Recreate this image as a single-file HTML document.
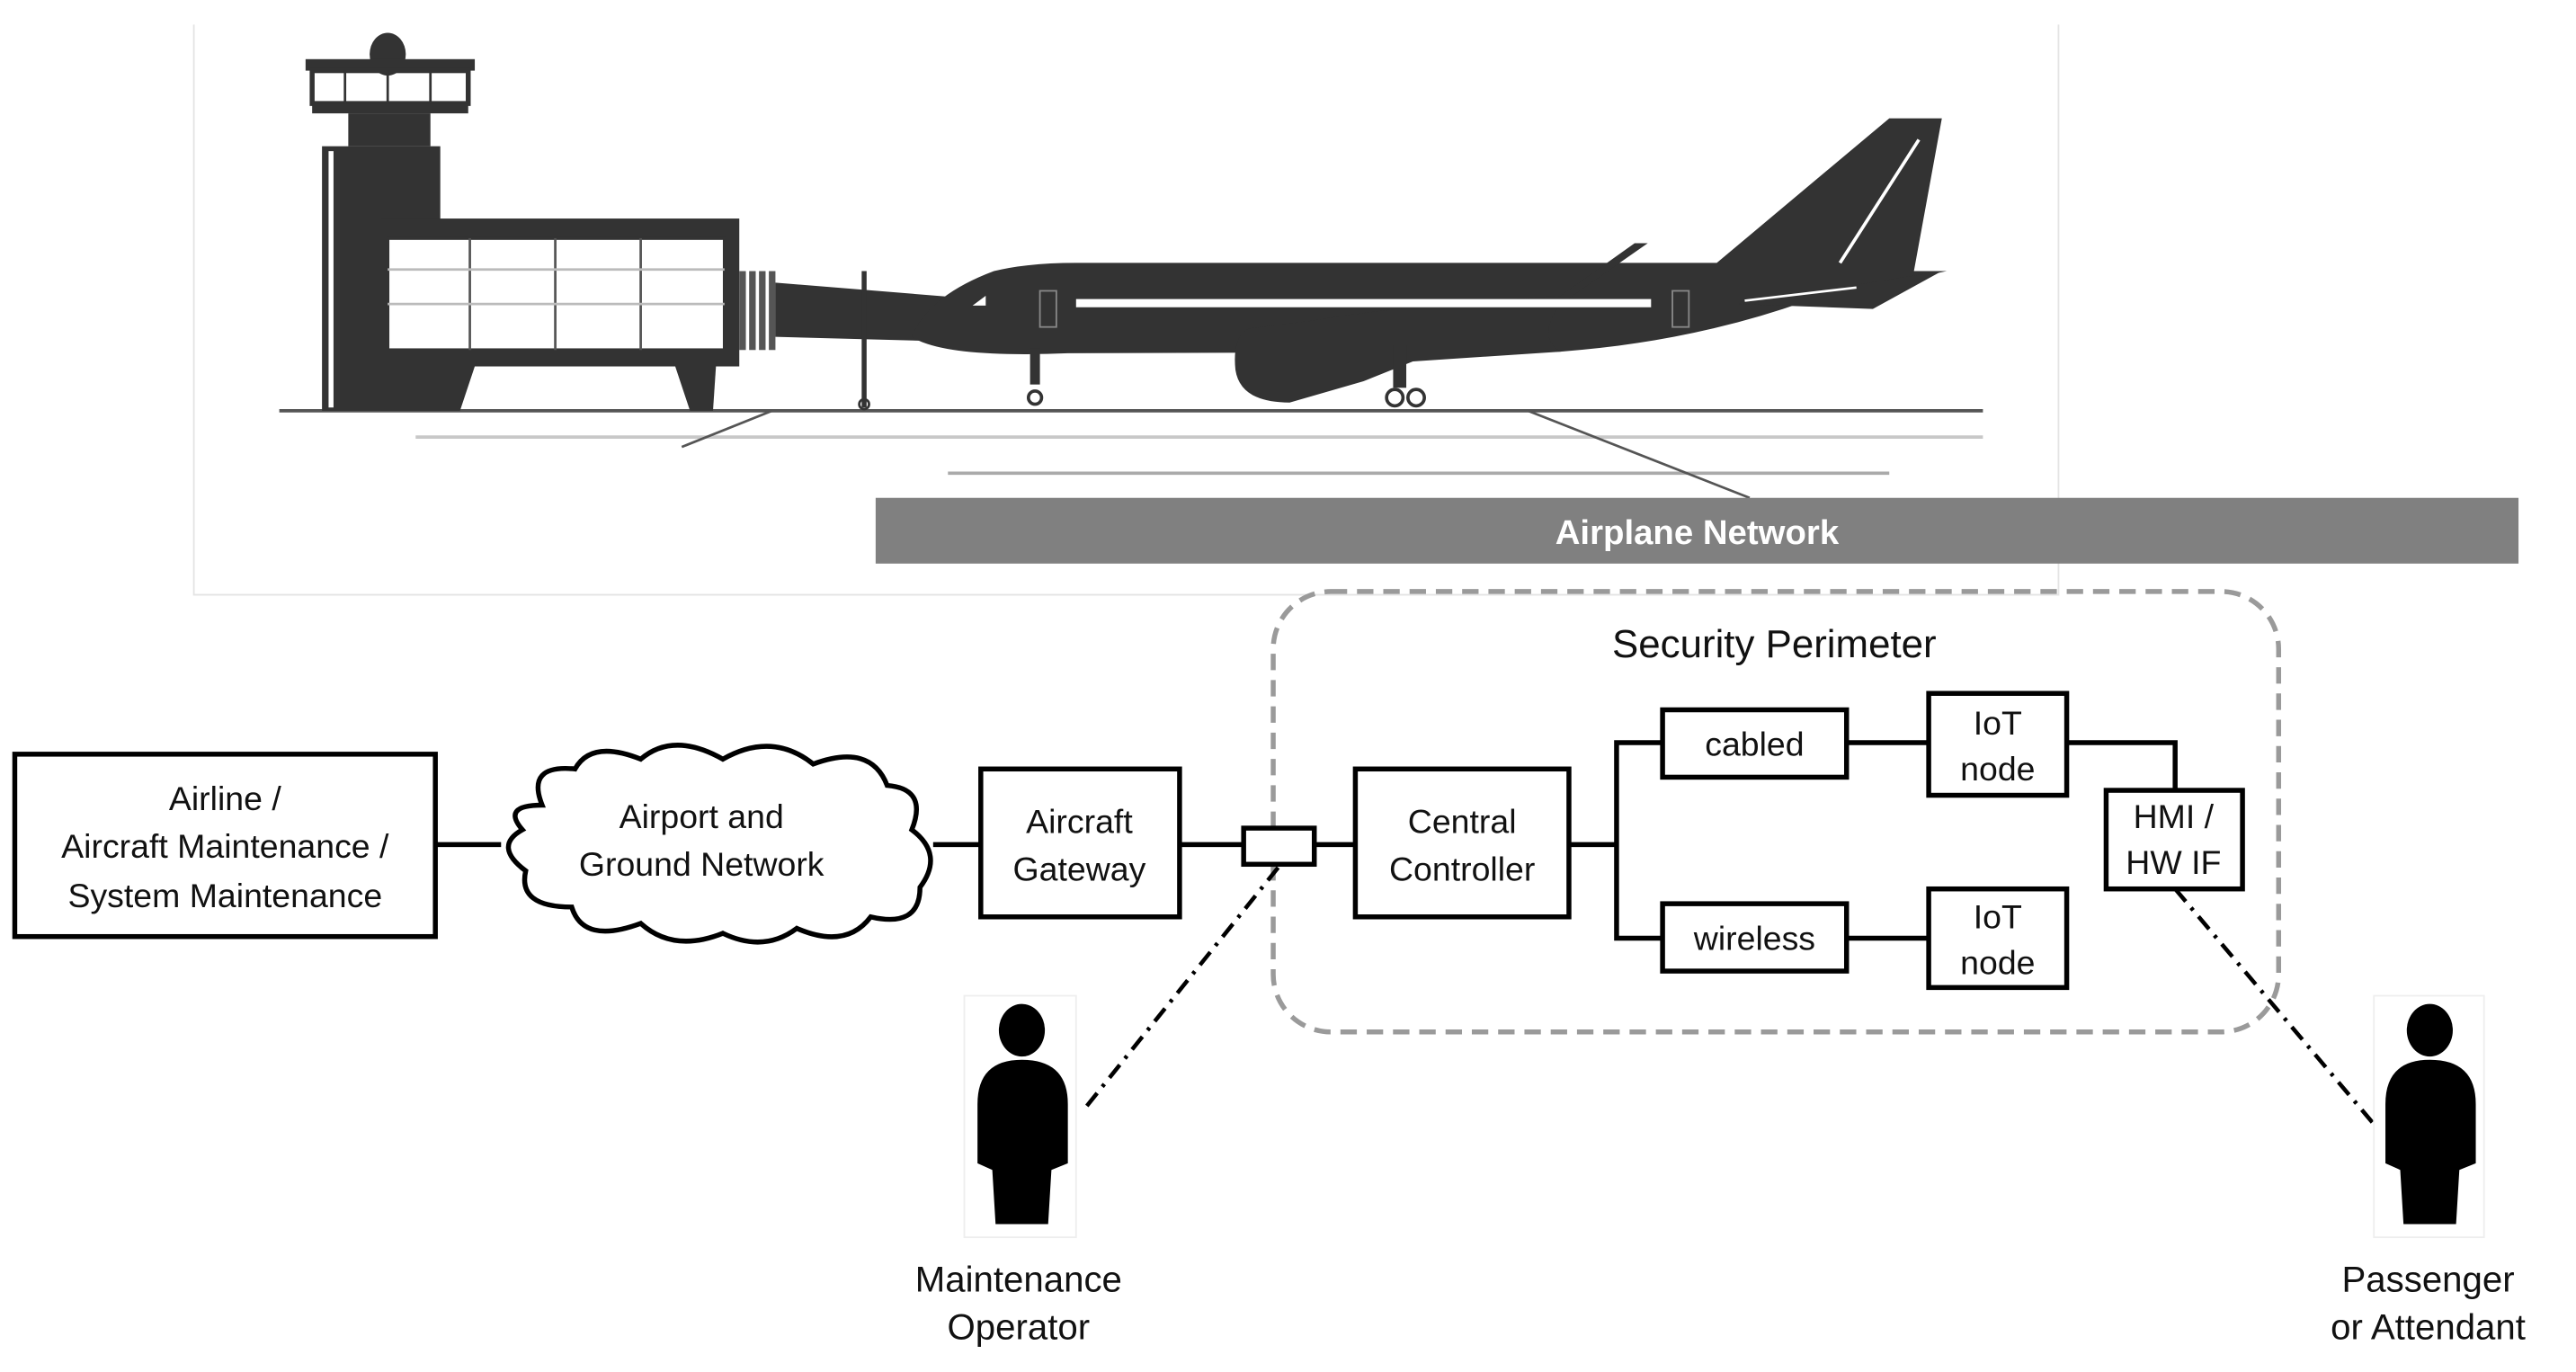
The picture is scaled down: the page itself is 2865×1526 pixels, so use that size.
<!DOCTYPE html>
<html><head><meta charset="utf-8"><style>
html,body{margin:0;padding:0;background:#fff;}
svg{display:block;}
text{font-family:"Liberation Sans",sans-serif;}
</style></head><body>
<svg width="2865" height="1526" viewBox="0 0 1568 835" preserveAspectRatio="none" xmlns="http://www.w3.org/2000/svg">
<rect x="0" y="0" width="1568" height="835" fill="#fff"/>
<path d="M118 15 V362 H1253 V15" fill="none" stroke="#e4e4e4" stroke-width="1"/>
<line x1="170" y1="250" x2="1207" y2="250" stroke="#555" stroke-width="2"/>
<line x1="253" y1="266" x2="1207" y2="266" stroke="#c8c8c8" stroke-width="2"/>
<line x1="577" y1="288" x2="1150" y2="288" stroke="#aaa" stroke-width="2"/>
<line x1="415" y1="272" x2="470" y2="250" stroke="#555" stroke-width="1.5"/>
<line x1="930" y1="250" x2="1065" y2="303" stroke="#555" stroke-width="1.5"/>
<g fill="#333">
<ellipse cx="236" cy="33" rx="11" ry="13"/>
<rect x="186" y="36" width="103" height="7"/>
<rect x="190" y="43" width="95" height="20" fill="none" stroke="#333" stroke-width="3"/>
<line x1="210" y1="43" x2="210" y2="63" stroke="#333" stroke-width="1.5"/>
<line x1="236" y1="43" x2="236" y2="63" stroke="#333" stroke-width="1.5"/>
<line x1="262" y1="43" x2="262" y2="63" stroke="#333" stroke-width="1.5"/>
<rect x="190" y="63" width="95" height="6"/>
<rect x="212" y="69" width="50" height="20"/>
<rect x="196" y="89" width="72" height="161"/>
<rect x="232" y="133" width="218" height="90"/>
<path d="M232 220 L290 220 L280 250 L232 250 Z"/>
<path d="M410 220 L436 220 L434 250 L420 250 Z"/>
</g>
<rect x="200" y="92" width="3" height="156" fill="#fff"/>
<rect x="236" y="145" width="205" height="68" fill="#fff" stroke="#333" stroke-width="2"/>
<g stroke="#555" stroke-width="1.5"><line x1="286" y1="145" x2="286" y2="213"/><line x1="338" y1="145" x2="338" y2="213"/><line x1="390" y1="145" x2="390" y2="213"/><line x1="236" y1="164" x2="441" y2="164" stroke="#bbb"/><line x1="236" y1="185" x2="441" y2="185" stroke="#bbb"/></g>
<g fill="#555"><rect x="450" y="165" width="4" height="48"/><rect x="456" y="165" width="4" height="48"/><rect x="462" y="165" width="4" height="48"/><rect x="468" y="165" width="4" height="48"/></g>
<path d="M472 172 L595 182 L585 208 L472 205 Z" fill="#333"/>
<line x1="526" y1="165" x2="526" y2="248" stroke="#333" stroke-width="3"/>
<circle cx="526" cy="246" r="3" fill="none" stroke="#333" stroke-width="1.5"/>
<g fill="#333">
<path d="M555 205 Q565 180 605 165 Q625 160 655 160 L1045 160 L1150 72 L1182 72 L1165 165 L1185 165 L1100 183 Q1030 208 950 214 L650 215 Q575 218 555 205 Z"/>
<path d="M760 200 Q750 205 752 225 Q755 245 785 245 L830 232 L860 220 L950 214 Q935 205 950 185 L1003 148 L995 148 L950 180 Q860 185 800 195 Z"/>
<rect x="627" y="212" width="6" height="22"/>
<rect x="848" y="210" width="8" height="26"/>
<path d="M1058 185 L1182 165 L1140 188 Z"/>
</g>
<path d="M1168 85 L1120 160" stroke="#fff" stroke-width="2"/>
<path d="M1062 183 L1130 175" stroke="#fff" stroke-width="1.5"/>
<path d="M600 180 L592 186 L600 186 Z" fill="#fff"/>
<rect x="655" y="182" width="350" height="5" fill="#fff"/>
<circle cx="630" cy="242" r="4" fill="#fff" stroke="#333" stroke-width="2"/>
<circle cx="849" cy="242" r="5" fill="#fff" stroke="#333" stroke-width="2"/>
<circle cx="862" cy="242" r="5" fill="#fff" stroke="#333" stroke-width="2"/>
<rect x="633" y="177" width="10" height="22" fill="none" stroke="#888" stroke-width="1"/>
<rect x="1018" y="177" width="10" height="22" fill="none" stroke="#888" stroke-width="1"/>
<rect x="533" y="303" width="1000" height="40" fill="#808080"/>
<text x="1033" y="331" font-size="21" font-weight="bold" fill="#fff" text-anchor="middle">Airplane Network</text>
<rect x="775" y="360" width="612" height="268" rx="35" ry="35" fill="none" stroke="#9a9a9a" stroke-width="3" stroke-dasharray="10,6"/>
<text x="1080" y="400" font-size="24" text-anchor="middle" fill="#111">Security Perimeter</text>
<g stroke="#000" stroke-width="3" fill="none">
<line x1="265" y1="514" x2="305" y2="514"/>
<line x1="568" y1="514" x2="597" y2="514"/>
<line x1="718" y1="514" x2="757" y2="514"/>
<line x1="800" y1="514" x2="825" y2="514"/>
<line x1="955" y1="514" x2="984" y2="514"/>
<polyline points="1012,452 984,452 984,571 1012,571"/>
<line x1="1124" y1="452" x2="1174" y2="452"/>
<line x1="1124" y1="571" x2="1174" y2="571"/>
<polyline points="1258,452 1324,452 1324,481"/>
</g>
<g stroke="#000" stroke-width="2.5" stroke-dasharray="10,5,2,5" fill="none">
<line x1="778" y1="528" x2="660" y2="675"/>
<line x1="1324" y1="541" x2="1444" y2="683"/>
</g>
<g stroke="#000" stroke-width="3" fill="#fff">
<rect x="9" y="459" width="256" height="111"/>
<rect x="597" y="468" width="121" height="90"/>
<rect x="757" y="504" width="43" height="22"/>
<rect x="825" y="468" width="130" height="90"/>
<rect x="1012" y="432" width="112" height="41"/>
<rect x="1012" y="550" width="112" height="41"/>
<rect x="1174" y="422" width="84" height="62"/>
<rect x="1174" y="541" width="84" height="60"/>
<rect x="1282" y="481" width="83" height="60"/>
</g>
<path d="M330 490 Q320 465 350 468 Q360 450 390 462 Q410 445 440 462 Q470 445 495 465 Q530 452 540 478 Q565 480 555 505 Q575 520 560 540 Q560 565 530 558 Q515 578 485 565 Q465 580 440 568 Q410 580 390 562 Q355 575 348 552 Q315 552 320 530 Q300 515 318 505 Q305 490 330 490 Z" fill="#fff" stroke="#000" stroke-width="3"/>
<g font-size="20.5" fill="#111" text-anchor="middle">
<text x="137" y="493">Airline /</text>
<text x="137" y="522">Aircraft Maintenance /</text>
<text x="137" y="552">System Maintenance</text>
<text x="427" y="504">Airport and</text>
<text x="427" y="533">Ground Network</text>
<text x="657" y="507">Aircraft</text>
<text x="657" y="536">Gateway</text>
<text x="890" y="507">Central</text>
<text x="890" y="536">Controller</text>
<text x="1068" y="460">cabled</text>
<text x="1068" y="578">wireless</text>
<text x="1216" y="447">IoT</text>
<text x="1216" y="475">node</text>
<text x="1216" y="565">IoT</text>
<text x="1216" y="593">node</text>
<text x="1323" y="504">HMI /</text>
<text x="1323" y="532">HW IF</text>
</g>
<rect x="587" y="606" width="68" height="147" fill="none" stroke="#eee" stroke-width="1"/>
<rect x="1445" y="606" width="67" height="147" fill="none" stroke="#eee" stroke-width="1"/>
<g fill="#000">
<ellipse cx="622" cy="627" rx="14" ry="16"/>
<path d="M595 708 L595 672 Q595 645 622 645 Q650 645 650 672 L650 708 L640 712 L638 745 L606 745 L604 712 Z"/>
<ellipse cx="1479" cy="627" rx="14" ry="16"/>
<path d="M1452 708 L1452 672 Q1452 645 1479 645 Q1507 645 1507 672 L1507 708 L1497 712 L1495 745 L1463 745 L1461 712 Z"/>
</g>
<g font-size="22" fill="#111" text-anchor="middle">
<text x="620" y="786">Maintenance</text>
<text x="620" y="815">Operator</text>
<text x="1478" y="786">Passenger</text>
<text x="1478" y="815">or Attendant</text>
</g>
</svg>
</body></html>
